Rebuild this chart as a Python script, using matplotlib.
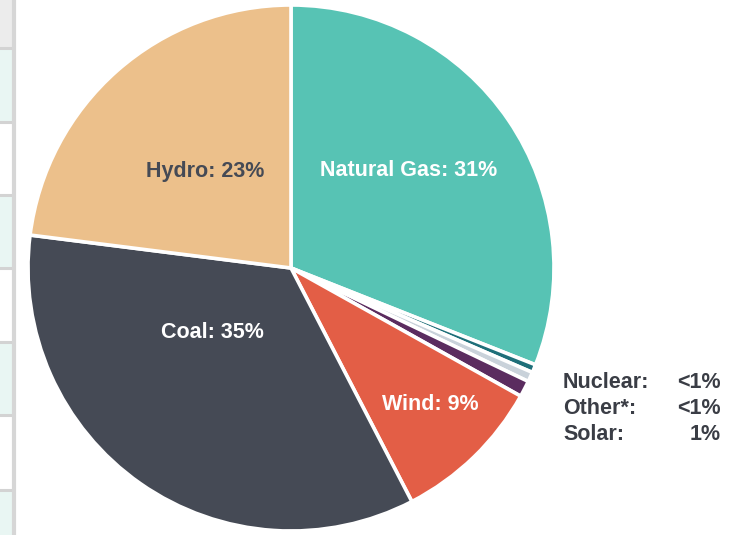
import matplotlib.pyplot as plt
from matplotlib.patches import Rectangle

# energy mix shares (percent)
sources = ['Natural Gas', 'Nuclear', 'Other*', 'Solar', 'Wind', 'Coal', 'Hydro']
shares = [31.0, 0.5, 0.6, 1.0, 9.3, 34.6, 23.0]
colors = ['#57c3b4', '#1f6f79', '#c9d2da', '#5b2c5f', '#e35e46', '#454a55', '#ecc08b']
shown = ['31%', '<1%', '<1%', '1%', '9%', '35%', '23%']

# left table strip (cropped part of a neighbouring table)
row_edges = [0, 48, 122, 195, 268, 342, 415, 490, 535]
row_colors = ['#ececec', '#e9f6f3', '#ffffff', '#e9f6f3', '#ffffff', '#e9f6f3', '#ffffff', '#e9f6f3']

W, H = 738, 535
fig = plt.figure(figsize=(W / 100, H / 100), dpi=100)
ax = fig.add_axes([0, 0, 1, 1])

cx, cy, r = 291, H - 268, 263
wedges, _ = ax.pie(shares, colors=colors, startangle=90, counterclock=False,
                   center=(cx, cy), radius=r,
                   wedgeprops=dict(edgecolor='white', linewidth=2.6))

# table strip
for i, c in enumerate(row_colors):
    y0, y1 = row_edges[i], row_edges[i + 1]
    ax.add_patch(Rectangle((0, H - y1), 13, y1 - y0, color=c, lw=0))
    if i > 0:
        ax.plot([0, 13], [H - y0, H - y0], color='#d3d3d3', lw=2.2)
ax.plot([14, 14], [0, H], color='#d6d6d6', lw=3)

font = dict(family=['Liberation Sans', 'DejaVu Sans'], fontweight='bold', fontsize=15.5)

# labels inside the big slices
inside = {'Hydro': ((205, 171), '#454a55'),
          'Natural Gas': ((409, 171), 'white'),
          'Coal': ((212, 332), 'white'),
          'Wind': ((430, 405), 'white')}
for name, ((tx, ty), tc) in inside.items():
    k = sources.index(name)
    ax.text(tx, H - ty, f'{name}: {shown[k]}', color=tc, ha='center', va='center', **font)

# small slices listed at the side
side = ['Nuclear', 'Other*', 'Solar']
for j, name in enumerate(side):
    k = sources.index(name)
    y = H - (382 + j * 26.5)
    ax.text(563, y, f'{name}:', color='#3a3d45', ha='left', va='center', **font)
    ax.text(721, y, shown[k], color='#3a3d45', ha='right', va='center', **font)

ax.set_xlim(0, W)
ax.set_ylim(0, H)
ax.set_aspect('equal')
ax.axis('off')
fig.savefig('out.png', dpi=100)
